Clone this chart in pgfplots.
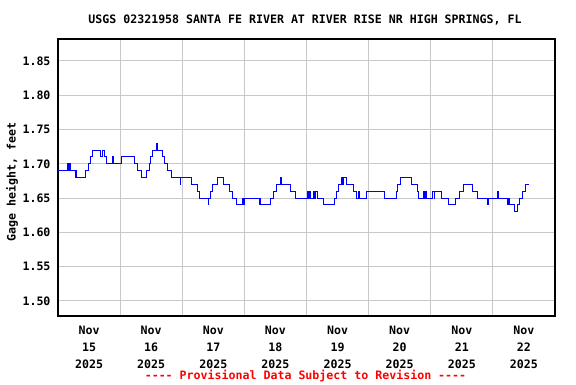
\documentclass[border=0pt]{standalone}
\usepackage{fontspec}
\setmainfont{DejaVu Sans Mono}
\usepackage{pgfplots}
\pgfplotsset{compat=1.18}
\definecolor{gridgray}{RGB}{200,200,200}
\definecolor{provred}{RGB}{255,0,0}
\newcommand{\lbl}{\fontsize{11.65}{17}\selectfont\bfseries}
\begin{document}
\begin{tikzpicture}[x=1bp,y=1bp]
\path[use as bounding box] (-58,-68) rectangle (518,316);
\begin{axis}[
  scale only axis,
  width=497bp, height=277bp,
  at={(0,0)}, anchor=south west,
  xmin=0, xmax=192,
  ymin=1.478, ymax=1.882,
  xtick={12,36,60,84,108,132,156,180},
  xticklabels={{Nov\\15\\2025},{Nov\\16\\2025},{Nov\\17\\2025},{Nov\\18\\2025},{Nov\\19\\2025},{Nov\\20\\2025},{Nov\\21\\2025},{Nov\\22\\2025}},
  minor xtick={24,48,72,96,120,144,168},
  xminorgrids=true, xmajorgrids=false,
  ytick={1.50,1.55,1.60,1.65,1.70,1.75,1.80,1.85},
  ymajorgrids=true,
  major tick length=0pt, minor tick length=0pt,
  grid style={gridgray, line width=1bp},
  minor grid style={gridgray, line width=1bp},
  axis line style={black, line width=1.2bp},
  /pgf/number format/assume math mode=true,
  yticklabel style={/pgf/number format/fixed, /pgf/number format/fixed zerofill, /pgf/number format/precision=2, font=\lbl, xshift=-4bp},
  xticklabel style={font=\lbl, align=center, yshift=-7bp},
  clip=true,
]
\addplot[const plot, color=blue, line width=0.9bp] coordinates {
(0,1.69) (3.5,1.70) (3.9,1.69) (4.4,1.70) (4.7,1.69) (6.7,1.68) (7.0,1.69) (7.3,1.68)
(10.7,1.69) (11.6,1.70) (12.5,1.71) (13.4,1.72) (16.5,1.71) (17.0,1.72) (18.0,1.71)
(18.6,1.70) (21.0,1.71) (21.4,1.70) (24.5,1.71) (29.4,1.70) (30.6,1.69) (32.3,1.68)
(34.3,1.69) (35.2,1.70) (35.9,1.71) (36.6,1.72) (38.0,1.73) (38.3,1.72) (40.4,1.71)
(41.3,1.70) (42.4,1.69) (44.0,1.68) (47.2,1.67) (47.4,1.68) (51.6,1.67) (53.8,1.66)
(54.6,1.65) (58.0,1.64) (58.3,1.65) (59.0,1.66) (59.8,1.67) (61.6,1.68) (64.0,1.67)
(66.2,1.66) (67.5,1.65) (68.8,1.64) (71.4,1.65) (71.7,1.64) (72.1,1.65) (77.8,1.64)
(78.1,1.65) (78.4,1.64) (82.0,1.65) (83.1,1.66) (84.2,1.67) (86.1,1.68) (86.5,1.67)
(89.8,1.66) (91.9,1.65) (96.3,1.66) (96.6,1.65) (97.0,1.66) (97.6,1.65) (98.5,1.66)
(99.0,1.65) (99.5,1.66) (100.4,1.65) (102.4,1.64) (106.9,1.65) (107.6,1.66) (108.3,1.67)
(109.4,1.68) (110.0,1.67) (110.3,1.68) (111.5,1.67) (114.1,1.66) (115.3,1.65) (116.0,1.66)
(116.4,1.65) (119.1,1.66) (126.2,1.65) (130.6,1.66) (131.2,1.67) (132.1,1.68) (136.6,1.67)
(138.7,1.66) (139.3,1.65) (141.3,1.66) (141.6,1.65) (141.9,1.66) (142.3,1.65) (144.7,1.66)
(145.3,1.65) (145.6,1.66) (148.3,1.65) (150.9,1.64) (153.7,1.65) (155.0,1.66) (156.7,1.67)
(160.0,1.66) (161.9,1.65) (165.9,1.64) (166.1,1.65) (169.6,1.66) (170.0,1.65) (173.6,1.64)
(174.0,1.65) (174.4,1.64) (176.4,1.63) (177.5,1.64) (178.4,1.65) (179.3,1.66) (180.6,1.67)
(181.8,1.67)
};
\end{axis}
\node[font=\lbl, rotate=90, anchor=center] at (-46,134) {Gage height, feet};
\node[font=\lbl, anchor=center] at (247,296) {USGS 02321958 SANTA FE RIVER AT RIVER RISE NR HIGH SPRINGS, FL};
\node[font=\lbl, text=provred, anchor=center] at (247.5,-60) {{-}{-}{-}{-} Provisional Data Subject to Revision {-}{-}{-}{-}};
\end{tikzpicture}
\end{document}
